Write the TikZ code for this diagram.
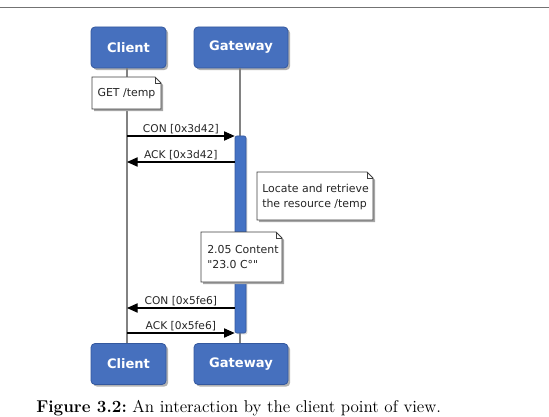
\documentclass[tikz,border=0pt]{standalone}
\usepackage{fontspec}
\newfontfamily\dv{DejaVu Sans}
\usetikzlibrary{shadows,arrows.meta,calc}
\definecolor{boxblue}{RGB}{70,112,190}
\definecolor{boxedge}{RGB}{52,88,158}
\definecolor{barblue}{RGB}{68,114,196}
\definecolor{lifegray}{RGB}{130,130,130}
\tikzset{
  actor/.style={rounded corners=3pt, fill=boxblue, draw=boxedge, line width=0.6pt,
    text=white, font=\dv\bfseries\fontsize{9.8}{12}\selectfont, inner sep=0pt,
    minimum height=30.75pt,
    drop shadow={shadow xshift=1.6pt, shadow yshift=-1.6pt, fill=black!55, opacity=0.55}},
  lifeline/.style={draw=lifegray, line width=0.8pt},
  actbar/.style={fill=barblue, draw=boxedge, line width=0.5pt, rounded corners=1.5pt,
    minimum width=8.25pt, inner sep=0pt,
    drop shadow={shadow xshift=1pt, shadow yshift=-1pt, fill=black!40, opacity=0.4}},
  msg/.style={draw=black, line width=0.8pt, -{Triangle[length=8pt,width=7pt]}},
  msglabel/.style={font=\dv\fontsize{8}{10}\selectfont, text=black!85, inner sep=1.5pt},
  notetext/.style={font=\dv\fontsize{8.2}{11.25}\selectfont, text=black!85, align=left, inner sep=0pt, anchor=west},
  noteline/.style={draw=black!75, line width=0.6pt, fill=white},
  noteshadow/.style={fill=black!35},
}
% #1 x1, #2 y1, #3 x2, #4 y2 (pixel units)
\newcommand\notebg[4]{%
  \fill[noteshadow] ($(#1,#2)+(2.2,2.2)$) -- ($(#3,#2)+(-6,0)+(2.2,2.2)$) -- ($(#3,#2)+(0,6)+(2.2,2.2)$) -- ($(#3,#4)+(2.2,2.2)$) -- ($(#1,#4)+(2.2,2.2)$) -- cycle;
  \path[noteline] (#1,#2) -- ($(#3,#2)+(-6,0)$) -- ($(#3,#2)+(0,6)$) -- (#3,#4) -- (#1,#4) -- cycle;
  \draw[draw=black!75, line width=0.5pt] ($(#3,#2)+(-6,0)$) -- ($(#3,#2)+(-6,6)$) -- ($(#3,#2)+(0,6)$);
}
\begin{document}
\begin{tikzpicture}[x=0.75pt,y=-0.75pt]
\useasboundingbox (0,0) rectangle (549,417);
\draw[black!55, line width=0.8pt] (0,7.5) -- (549,7.5);

% actors
\node[actor, minimum width=56.25pt] (ct) at (128.5,47.5) {Client};
\node[actor, minimum width=70.5pt] (gt) at (241,47.5) {Gateway};
\node[actor, minimum width=56.25pt] (cb) at (128.5,364) {Client};
\node[actor, minimum width=70.5pt] (gb) at (241,364) {Gateway};

% lifelines
\draw[lifeline] (ct.south -| 127,0) -- (cb.north -| 127,0);
\draw[lifeline] (gt.south -| 240,0) -- (gb.north -| 240,0);

% activation bar
\node[actbar, minimum height=147.75pt] (act) at (240.5,234.5) {};

% GET note
\notebg{92}{77}{161}{109}
\node[notetext, anchor=center] (get) at (126.5,93.5) {GET /temp};

% messages
\coordinate (m1) at (127,136);
\coordinate (m2) at (127,162);
\coordinate (m3) at (127,308);
\coordinate (m4) at (127,333);
\draw[msg] (m1) -- (m1 -| act.west) node[msglabel, midway, above] (l1) {CON [0x3d42]};
\draw[msg] (m2 -| act.west) -- (m2) node[msglabel, midway, above] (l2) {ACK [0x3d42]};
\draw[msg] (m3 -| act.west) -- (m3) node[msglabel, midway, above] (l3) {CON [0x5fe6]};
\draw[msg] (m4) -- (m4 -| act.west) node[msglabel, midway, above] (l4) {ACK [0x5fe6]};

% Locate note
\notebg{257}{172}{373}{220}
\node[notetext] (loc) at (262,197) {Locate and retrieve\\the resource /temp};

% Content note
\notebg{201}{232}{282}{282}
\node[notetext] (cont) at (207,257) {2.05 Content\\"23.0 C°"};

% caption
\node[anchor=north west, inner sep=0pt, font=\fontsize{12.8}{15}\selectfont] (cap) at (36,400.5)
  {\textbf{Figure 3.2:}\ An interaction by the client point of view.};
\end{tikzpicture}
\end{document}
